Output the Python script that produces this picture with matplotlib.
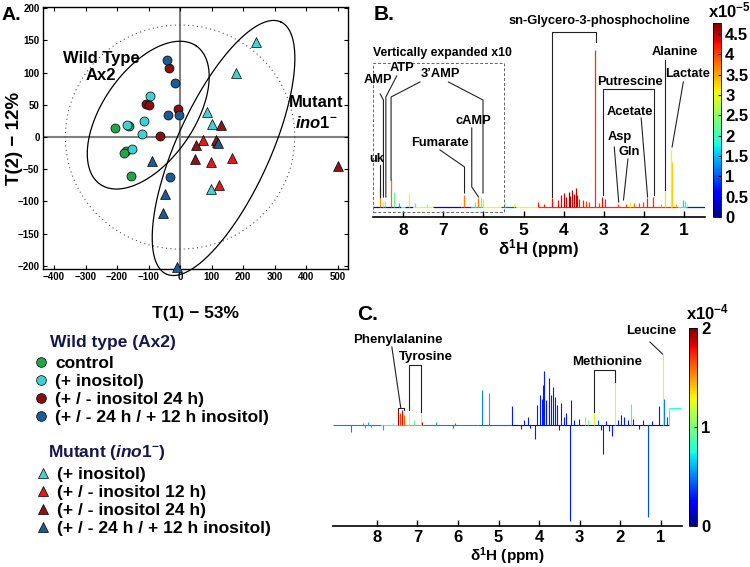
import matplotlib
matplotlib.use("Agg")
import matplotlib.pyplot as plt
import numpy as np
from matplotlib.cm import ScalarMappable
from matplotlib.colors import Normalize
from matplotlib.lines import Line2D
from matplotlib.ticker import FormatStrFormatter, FuncFormatter, MultipleLocator

plt.rcParams["font.family"] = ["Liberation Sans", "DejaVu Sans"]
plt.rcParams["font.weight"] = "bold"
plt.rcParams["axes.labelweight"] = "bold"
plt.rcParams["mathtext.fontset"] = "custom"
plt.rcParams["mathtext.rm"] = "Liberation Sans:bold"
plt.rcParams["mathtext.it"] = "Liberation Sans:italic:bold"
plt.rcParams["mathtext.bf"] = "Liberation Sans:bold"

# ---- panel A: PCA scores (T1, T2) ----
wt_control = [(-205, 14), (-162, 17), (-172, -21), (-177, -25), (-156, -60)]
wt_ino = [(-94, 64), (-115, 25), (-120, 4), (-152, -18), (-167, 19)]
wt_ino24 = [(-34, 108), (-109, 51), (-99, 49), (-65, 2), (-7, 43)]
wt_ino24_12 = [(-42, 119), (-16, 84), (-38, 35), (-4, 35), (-33, -62)]
mut_ino = [(242, 147), (176, 100), (87, 39), (100, 20), (97, -81)]
mut_ino12 = [(74, -5), (99, -39), (164, -33), (122, -74), (117, -7)]
mut_ino24 = [(131, 18), (50, -13), (48, -34), (115, -4), (500, -45)]
mut_ino24_12 = [(-88, -37), (-48, -88), (-53, -118), (-10, -202), (119, -10)]

wt_labels = ["control", "(+ inositol)", "(+ / - inositol 24 h)", "(+ / - 24 h / + 12 h inositol)"]
mut_labels = ["(+ inositol)", "(+ / - inositol 12 h)", "(+ / - inositol 24 h)", "(+ / - 24 h / + 12 h inositol)"]
wt_colors = ["#22a54a", "#3fd0d2", "#8a0e10", "#1c5c96"]
mut_colors = ["#45d0d2", "#e3191c", "#8c1515", "#1d5a92"]

# group ellipses: centre, semi-axis vectors (data units)
wt_ell = ((-101, 34), (151, 108), (-121, 39))
mut_ell = ((138, -17), (181, 196), (-136, 29))
t2_radius = (364, 174)

# ---- panel B: loadings spectrum (ppm, height a.u., colour x1e-5) ----
b_peaks = [
    (8.57, 0.20, 3.6), (8.50, 0.05, 2.8), (8.44, 0.06, 2.4), (8.31, 0.28, 3.8),
    (8.22, 0.15, 2.2), (8.10, 0.04, 1.5), (7.85, 0.14, 3.0), (7.70, 0.04, 2.0),
    (7.40, 0.03, 2.5), (6.48, 0.12, 3.7), (6.20, 0.05, 2.0), (6.13, 0.09, 3.8),
    (6.07, 0.10, 2.2), (6.01, 0.08, 3.2), (5.45, 0.05, 3.0), (5.25, 0.03, 3.0),
    (4.63, 0.05, 4.2), (4.50, 0.03, 4.2), (4.30, 0.09, 4.3), (4.15, 0.07, 4.3),
    (4.06, 0.12, 4.4), (3.98, 0.14, 4.5), (3.94, 0.10, 4.5), (3.88, 0.15, 4.6),
    (3.84, 0.11, 4.6), (3.79, 0.17, 4.5), (3.74, 0.13, 4.6), (3.70, 0.19, 4.5),
    (3.66, 0.12, 4.4), (3.61, 0.08, 4.2), (3.52, 0.07, 4.2), (3.44, 0.06, 4.0),
    (3.36, 0.05, 4.0), (3.22, 1.57, 4.1), (3.12, 0.04, 4.0), (3.04, 0.10, 4.3),
    (2.98, 0.08, 4.2), (2.65, 0.03, 4.0), (2.45, 0.03, 4.0), (2.35, 0.05, 3.0),
    (2.24, 0.04, 3.8), (2.12, 0.04, 4.0), (2.03, 0.05, 4.0), (1.92, 0.09, 4.2),
    (1.77, 0.10, 4.1), (1.58, 0.03, 3.5), (1.47, 0.17, 3.2), (1.33, 0.57, 3.1),
    (1.30, 0.45, 3.3), (1.20, 0.03, 3.5), (1.02, 0.07, 1.6), (0.98, 0.06, 1.8),
    (0.92, 0.03, 3.0),
]
b_base = [
    (8.75, 8.05, 0.0, 0.5), (8.05, 7.95, 0.0, 2.0), (7.95, 7.75, 0.0, 0.6),
    (7.75, 7.25, 0.0, 3.0), (7.25, 6.55, 0.0, 0.5), (6.55, 6.30, 0.0, 0.8),
    (6.30, 6.00, 0.0, 1.5), (6.00, 5.55, 0.0, 3.0), (5.55, 5.20, 0.0, 1.0),
    (5.20, 4.65, 0.0, 3.0), (4.65, 1.15, 0.0, 4.1), (1.15, 0.95, 0.0, 1.8),
    (0.95, 0.48, 0.0, 0.7),
]
b_ticks = [8, 7, 6, 5, 4, 3, 2, 1]
b_cticks = [0, 0.5, 1, 1.5, 2, 2.5, 3, 3.5, 4, 4.5]

# ---- panel C: loadings spectrum (ppm, height a.u., colour x1e-4) ----
c_peaks = [
    (8.64, -0.07, 0.5), (8.35, 0.02, 0.6), (8.28, -0.03, 0.6), (8.22, 0.03, 0.6),
    (8.15, -0.02, 0.6), (7.84, -0.05, 0.6), (7.60, 0.02, 0.9), (7.47, 0.15, 1.9),
    (7.43, 0.12, 1.7), (7.38, 0.15, 1.8), (7.33, 0.10, 1.6), (7.20, 0.13, 1.3),
    (7.08, 0.05, 0.9), (6.92, 0.13, 1.2), (6.88, 0.03, 1.9), (6.55, 0.03, 0.6),
    (6.12, -0.03, 0.5), (6.08, 0.02, 0.5), (5.42, 0.35, 0.5), (5.23, 0.32, 0.6),
    (4.66, 0.19, 0.3), (4.45, -0.04, 0.3), (4.38, 0.05, 0.3), (4.28, 0.08, 0.3),
    (4.22, -0.03, 0.3), (4.11, -0.14, 0.3), (4.05, 0.20, 0.3), (3.99, 0.30, 0.3),
    (3.93, 0.26, 0.3), (3.90, 0.40, 0.3), (3.88, 0.54, 0.3), (3.82, 0.25, 0.3),
    (3.76, 0.47, 0.3), (3.72, 0.30, 0.3), (3.65, 0.38, 0.3), (3.60, 0.28, 0.3),
    (3.55, 0.20, 0.3), (3.50, -0.05, 0.3), (3.46, 0.22, 0.3), (3.40, 0.08, 0.3),
    (3.33, 0.12, 0.3), (3.25, -0.96, 0.3), (3.22, 0.25, 0.3), (3.15, 0.05, 0.3),
    (3.02, 0.06, 0.3), (2.88, 0.08, 1.0), (2.80, 0.05, 1.0), (2.65, 0.16, 1.2),
    (2.55, 0.05, 0.4), (2.48, -0.05, 0.3), (2.43, -0.29, 0.3), (2.35, 0.04, 0.3),
    (2.28, -0.06, 0.3), (2.20, -0.11, 0.3), (2.14, 0.43, 1.2), (2.05, 0.05, 0.3),
    (1.98, 0.10, 0.3), (1.90, 0.08, 0.3), (1.82, 0.05, 0.3), (1.73, 0.21, 0.8),
    (1.68, 0.06, 0.3), (1.55, -0.04, 0.3), (1.45, 0.05, 0.3), (1.32, -0.92, 0.4),
    (1.22, 0.04, 0.3), (1.05, 0.19, 0.3), (0.96, 0.71, 1.3), (0.92, 0.26, 0.5),
    (0.85, 0.08, 0.4), (0.80, 0.17, 0.8),
]
c_base = [
    (9.08, 7.90, 0.0, 0.5), (7.90, 7.50, 0.0, 0.8), (7.50, 6.85, 0.0, 1.5),
    (6.85, 5.50, 0.0, 0.5), (5.50, 4.70, 0.0, 0.45), (4.70, 0.80, 0.0, 0.25),
    (0.80, 0.50, 0.17, 0.8),
]
c_ticks = [8, 7, 6, 5, 4, 3, 2, 1]
c_cticks = [0, 1, 2]

W, H = 750, 567
fig = plt.figure(figsize=(W / 100, H / 100), dpi=100)


def box(left, top, right, bottom):
    return [left / W, 1 - bottom / H, (right - left) / W, (bottom - top) / H]


def fpos(x, y):
    return x / W, 1 - y / H


# ================= panel A =================
ax = fig.add_axes(box(43, 7, 348, 269))
ax.axhline(0, color="#808080", lw=1.5, zorder=1)
ax.axvline(0, color="#808080", lw=1.5, zorder=1)
t = np.linspace(0, 2 * np.pi, 300)
ax.plot(t2_radius[0] * np.cos(t), t2_radius[1] * np.sin(t), ls=(0, (1, 3)), color="#555", lw=0.8, zorder=1)
for (cx, cy), (ux, uy), (vx, vy) in (wt_ell, mut_ell):
    ax.plot(cx + ux * np.cos(t) + vx * np.sin(t), cy + uy * np.cos(t) + vy * np.sin(t),
            color="k", lw=0.9, zorder=2, clip_on=False)
for pts, col in zip([wt_control, wt_ino, wt_ino24, wt_ino24_12], wt_colors):
    x, y = zip(*pts)
    ax.scatter(x, y, s=42, marker="o", color=col, edgecolors="k", linewidths=0.5, zorder=3)
for pts, col in zip([mut_ino, mut_ino12, mut_ino24, mut_ino24_12], mut_colors):
    x, y = zip(*pts)
    ax.scatter(x, y, s=50, marker="^", color=col, edgecolors="k", linewidths=0.5, zorder=3, clip_on=False)
ax.set_xlim(-435, 533)
ax.set_ylim(-205, 202)
ax.xaxis.set_major_locator(MultipleLocator(100))
ax.yaxis.set_major_locator(MultipleLocator(50))
ax.tick_params(direction="in", length=3, labelsize=7, top=True, right=True, width=0.8, pad=2.5)
for s in ax.spines.values():
    s.set_linewidth(1.0)
ax.set_ylabel("T(2) − 12%", fontsize=13.5)
ax.yaxis.set_label_coords(-20 / 305, 0.5)
ax.set_xlabel("T(1) − 53%", fontsize=12.5, labelpad=17)
ax.text(-250, 109, "Wild Type\nAx2", fontsize=12, ha="center", va="center", linespacing=1.15)
ax.text(432, 54, "Mutant", fontsize=12, ha="center", va="center")
ax.text(432, 22, "$\\mathit{ino1}^{-}$", fontsize=12, ha="center", va="center")
fig.text(*fpos(11, 16), "A.", fontsize=14, ha="center", va="center")

# legends
fig.text(*fpos(50, 342), "Wild type (Ax2)", fontsize=12.5, color="#16164e", va="center")
fig.text(*fpos(48, 452), "Mutant $\\mathit{(ino1}^{-}\\mathit{)}$", fontsize=12.5, color="#16164e", va="center")
wt_handles = [Line2D([], [], ls="none", marker="o", ms=7, mfc=c, mec="k", mew=0.5) for c in wt_colors]
mut_handles = [Line2D([], [], ls="none", marker="^", ms=7, mfc=c, mec="k", mew=0.5) for c in mut_colors]
for handles, labels, anchor in ((wt_handles, wt_labels, (32, 356)), (mut_handles, mut_labels, (34, 467))):
    fig.legend(handles, labels, loc="upper left", bbox_to_anchor=fpos(*anchor), frameon=False,
               fontsize=12.5, handlelength=1.0, handletextpad=0.35, labelspacing=0.17,
               borderpad=0, borderaxespad=0)

jet = plt.get_cmap("jet")


def draw_spectrum(axs, peaks, base, norm, lw):
    for p0, p1, y, c in base:
        axs.plot([p0, p1], [y, y], color=jet(norm(c)), lw=lw, solid_capstyle="butt")
    pos, hgt, col = zip(*peaks)
    axs.vlines(pos, 0, hgt, colors=jet(norm(np.array(col))), lw=lw)


def bottom_axis(axs, ticks, xlim, pad, labelpad, labelsize):
    axs.set_xlim(*xlim)
    axs.set_xticks(ticks)
    axs.set_yticks([])
    for k in ("left", "right", "top"):
        axs.spines[k].set_visible(False)
    axs.spines["bottom"].set_linewidth(1.2)
    axs.tick_params(axis="x", direction="in", length=4, width=1, labelsize=12.5, pad=pad)
    axs.set_xlabel("δ$^{1}$H (ppm)", fontsize=labelsize, labelpad=labelpad)
    axs.patch.set_alpha(0)


def annotate(axs, text, tx, ty, paths, fs):
    axs.text(tx, ty, text, fontsize=fs, ha="center", va="center", clip_on=False)
    for path in paths:
        xs, ys = zip(*path)
        axs.plot(xs, ys, color="#222", lw=0.8, clip_on=False)


# ================= panel B =================
bnorm = Normalize(0, 4.77)
axb = fig.add_axes(box(373, 20, 705, 217))
draw_spectrum(axb, b_peaks, b_base, bnorm, 0.9)
bottom_axis(axb, b_ticks, (8.75, 0.48), 4.5, -1, 12)
axb.set_ylim(-0.10, 1.87)
axb.plot([8.75, 5.48, 5.48, 8.75, 8.75], [-0.05, -0.05, 1.44, 1.44, -0.05], ls=(0, (3, 2)), color="#666", lw=0.7)
axb.text(7.01, 1.54, "Vertically expanded x10", fontsize=8.8, ha="center", va="center")
fs = 9.3
annotate(axb, "uk", 8.65, 0.48, [[(8.57, 0.42), (8.57, 0.10)]], fs)
annotate(axb, "AMP", 8.62, 1.27, [[(8.57, 1.13), (8.49, 1.07), (8.49, 0.10)]], fs)
annotate(axb, "ATP", 8.02, 1.39, [[(8.16, 1.31), (8.43, 1.10), (8.43, 0.10)]], fs)
annotate(axb, "3’AMP", 7.08, 1.33, [[(7.58, 1.25), (8.30, 1.10), (8.30, 0.27)],
                                    [(6.87, 1.25), (6.01, 1.07), (6.01, 0.14)]], fs)
annotate(axb, "cAMP", 6.26, 0.86, [[(6.29, 0.79), (6.29, 0.20), (6.12, 0.10)]], fs)
annotate(axb, "Fumarate", 7.08, 0.64, [[(7.08, 0.57), (6.47, 0.40), (6.47, 0.14)]], fs)
annotate(axb, "sn-Glycero-3-phosphocholine", 3.10, 1.86,
         [[(4.29, 0.10), (4.29, 1.75), (3.19, 1.75), (3.19, 1.65)]], fs)
annotate(axb, "Putrescine", 2.35, 1.25, [[(3.03, 0.12), (3.03, 1.18), (1.76, 1.18), (1.76, 0.12)]], fs)
annotate(axb, "Acetate", 2.34, 0.95, [[(2.07, 0.89), (1.91, 0.10)]], fs)
annotate(axb, "Asp", 2.60, 0.70, [[(2.74, 0.60), (2.63, 0.05)]], fs)
annotate(axb, "Gln", 2.36, 0.55, [[(2.40, 0.48), (2.51, 0.07)]], fs)
annotate(axb, "Alanine", 1.23, 1.55, [[(1.47, 1.47), (1.47, 0.17)]], fs)
annotate(axb, "Lactate", 0.91, 1.33, [[(1.02, 1.25), (1.30, 0.60)]], fs)
fig.text(*fpos(384, 14), "B.", fontsize=15, ha="center", va="center")

caxb = fig.add_axes(box(713, 23, 721, 217))
cbb = fig.colorbar(ScalarMappable(norm=bnorm, cmap=jet), cax=caxb, ticks=b_cticks)
cbb.outline.set_linewidth(0.6)
caxb.yaxis.set_major_formatter(FuncFormatter(lambda v, _: f"{v:g}"))
caxb.tick_params(direction="in", length=2, labelsize=12, pad=3)
fig.text(*fpos(729, 10), "x10$^{-5}$", fontsize=12, ha="center", va="center")

# ================= panel C =================
cnorm = Normalize(0, 2)
axc = fig.add_axes(box(333, 300, 682, 526))
draw_spectrum(axc, c_peaks, c_base, cnorm, 0.8)
bottom_axis(axc, c_ticks, (9.08, 0.48), 3, 0, 11)
axc.tick_params(axis="x", labelsize=12)
axc.set_ylim(-1.01, 1.25)
fs = 9.5
annotate(axc, "Phenylalanine", 7.47, 0.85, [[(7.63, 0.78), (7.41, 0.17)],
                                           [(7.47, 0.15), (7.47, 0.17), (7.33, 0.17), (7.33, 0.15)]], fs)
annotate(axc, "Tyrosine", 6.79, 0.68, [[(7.20, 0.15), (7.20, 0.60), (6.92, 0.60), (6.92, 0.13)]], fs)
annotate(axc, "Methionine", 2.32, 0.63, [[(2.64, 0.13), (2.64, 0.55), (2.13, 0.55), (2.13, 0.43)]], fs)
annotate(axc, "Leucine", 1.25, 0.94, [[(1.27, 0.83), (0.96, 0.71)]], fs)
fig.text(*fpos(368, 315), "C.", fontsize=15, ha="center", va="center")

caxc = fig.add_axes(box(689, 328, 697, 526))
cbc = fig.colorbar(ScalarMappable(norm=cnorm, cmap=jet), cax=caxc, ticks=c_cticks)
cbc.outline.set_linewidth(0.6)
caxc.yaxis.set_major_formatter(FormatStrFormatter("%d"))
caxc.tick_params(direction="in", length=2, labelsize=12, pad=3)
fig.text(*fpos(708, 312), "x10$^{-4}$", fontsize=12, ha="center", va="center")

fig.savefig("out.png", dpi=100)
